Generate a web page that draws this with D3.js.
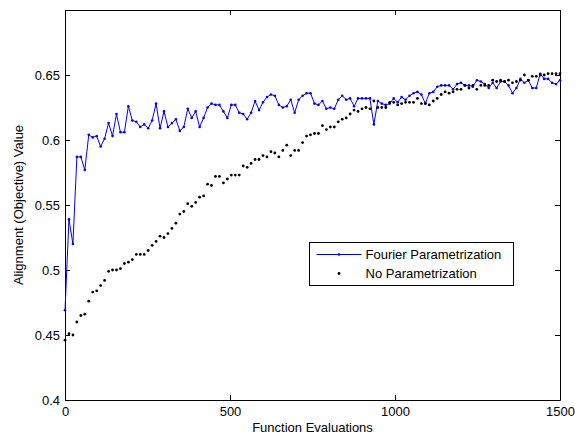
<!DOCTYPE html>
<html lang="en">
<head>
  <meta charset="utf-8">
  <title>Alignment vs Function Evaluations</title>
  <script src="https://d3js.org/d3.v7.min.js"></script>
  <style>
    body { margin: 0; background: #fff; }
    svg { font-family: "Liberation Sans", Arial, Helvetica, sans-serif; }
    .axis text { font-size: 13px; fill: #000; }
    .axis line, .axis path { stroke: #000; }
  </style>
</head>
<body>
<div id="chart"></div>
<script>
const width = 575, height = 434;
const margin = {top: 10, right: 15, bottom: 34, left: 65};

// one sample every 12 function evaluations
const evalStep = 12;
const xTicks = [0, 500, 1000, 1500];
const yTicks = [0.4, 0.45, 0.5, 0.55, 0.6, 0.65];

const fourier = [
  0.469, 0.539, 0.520, 0.587, 0.587, 0.577, 0.604, 0.602, 0.603, 0.595,
  0.601, 0.613, 0.603, 0.620, 0.606, 0.606, 0.626, 0.615, 0.614, 0.610,
  0.612, 0.609, 0.615, 0.628, 0.609, 0.622, 0.610, 0.613, 0.616, 0.607,
  0.610, 0.624, 0.617, 0.622, 0.610, 0.617, 0.625, 0.628, 0.627, 0.627,
  0.622, 0.617, 0.627, 0.627, 0.621, 0.620, 0.616, 0.621, 0.630, 0.623,
  0.629, 0.633, 0.635, 0.634, 0.627, 0.625, 0.626, 0.631, 0.621, 0.631,
  0.634, 0.636, 0.636, 0.628, 0.627, 0.630, 0.624, 0.625, 0.624, 0.631,
  0.634, 0.631, 0.632, 0.626, 0.632, 0.632, 0.632, 0.632, 0.612, 0.630,
  0.628, 0.627, 0.628, 0.632, 0.629, 0.633, 0.631, 0.634, 0.636, 0.637,
  0.635, 0.628, 0.636, 0.637, 0.641, 0.642, 0.642, 0.642, 0.639, 0.643,
  0.644, 0.642, 0.642, 0.641, 0.646, 0.645, 0.643, 0.640, 0.644, 0.640,
  0.645, 0.645, 0.642, 0.636, 0.640, 0.647, 0.644, 0.646, 0.640, 0.640,
  0.651, 0.647, 0.647, 0.644, 0.643, 0.646
];

const noParam = [
  0.446, 0.451, 0.450, 0.460, 0.465, 0.466, 0.476, 0.483, 0.484, 0.488,
  0.492, 0.499, 0.500, 0.500, 0.501, 0.505, 0.506, 0.508, 0.512, 0.512,
  0.512, 0.515, 0.519, 0.522, 0.526, 0.525, 0.528, 0.532, 0.536, 0.543,
  0.545, 0.551, 0.549, 0.552, 0.556, 0.557, 0.566, 0.565, 0.572, 0.572,
  0.567, 0.570, 0.573, 0.573, 0.573, 0.580, 0.579, 0.582, 0.585, 0.585,
  0.588, 0.587, 0.591, 0.590, 0.587, 0.592, 0.596, 0.588, 0.592, 0.592,
  0.598, 0.603, 0.604, 0.605, 0.605, 0.611, 0.608, 0.610, 0.610, 0.614,
  0.616, 0.617, 0.620, 0.623, 0.622, 0.624, 0.625, 0.624, 0.630, 0.625,
  0.625, 0.625, 0.629, 0.629, 0.627, 0.628, 0.629, 0.629, 0.629, 0.632,
  0.628, 0.628, 0.627, 0.630, 0.632, 0.635, 0.637, 0.636, 0.637, 0.639,
  0.639, 0.642, 0.640, 0.642, 0.639, 0.642, 0.642, 0.642, 0.646, 0.645,
  0.646, 0.645, 0.646, 0.644, 0.645, 0.646, 0.650, 0.646, 0.649, 0.649,
  0.650, 0.650, 0.651, 0.651, 0.651, 0.651
];

let x = d3.scaleLinear()
    .domain([0, 1500])
    .range([margin.left, width - margin.right]);
let y = d3.scaleLinear()
    .domain([0.4, 0.7])
    .range([height - margin.bottom, margin.top]);

let svg = d3.select("#chart").append("svg")
    .attr("width", width)
    .attr("height", height);

// axes box with inward ticks on all four sides, like matlab
svg.append("g")
    .attr("class", "x axis")
    .attr("transform", `translate(0,${height - margin.bottom})`)
    .call(d3.axisBottom(x).tickValues(xTicks).tickSize(-5).tickPadding(6.5)
      .tickSizeOuter(0).tickFormat(d3.format("d")));

svg.append("g")
    .attr("class", "x axis")
    .attr("transform", `translate(0,${margin.top})`)
    .call(d3.axisTop(x).tickValues(xTicks).tickSize(-5).tickSizeOuter(0).tickFormat(""));

svg.append("g")
    .attr("class", "y axis")
    .attr("transform", `translate(${margin.left},0)`)
    .call(d3.axisLeft(y).tickValues(yTicks).tickSize(-5).tickPadding(5)
      .tickSizeOuter(0).tickFormat(d3.format("")));

svg.append("g")
    .attr("class", "y axis")
    .attr("transform", `translate(${width - margin.right},0)`)
    .call(d3.axisRight(y).tickValues(yTicks).tickSize(-5).tickSizeOuter(0).tickFormat(""));

svg.selectAll(".axis text").attr("font-family", null);

// Fourier series: blue line with small dot markers
const line = d3.line()
    .x((d, i) => x(i * evalStep))
    .y(d => y(d));

svg.append("path")
    .datum(fourier)
    .attr("fill", "none")
    .attr("stroke", "#0000ff")
    .attr("stroke-width", 1)
    .attr("d", line);

svg.append("g")
  .selectAll("circle")
  .data(fourier)
  .join("circle")
    .attr("cx", (d, i) => x(i * evalStep))
    .attr("cy", d => y(d))
    .attr("r", 1.3)
    .attr("fill", "#0000ff");

// no parametrization: black dots only
svg.append("g")
  .selectAll("circle")
  .data(noParam)
  .join("circle")
    .attr("cx", (d, i) => x(i * evalStep))
    .attr("cy", d => y(d))
    .attr("r", 1.4)
    .attr("fill", "#000");

// axis titles
svg.append("text")
    .attr("x", (margin.left + width - margin.right) / 2)
    .attr("y", 431.5)
    .attr("text-anchor", "middle")
    .attr("font-size", 13)
    .text("Function Evaluations");

svg.append("text")
    .attr("transform", `translate(22.5,${(margin.top + height - margin.bottom) / 2}) rotate(-90)`)
    .attr("text-anchor", "middle")
    .attr("font-size", 13)
    .text("Alignment (Objective) Value");

// legend
const legendItems = ["Fourier Parametrization", "No Parametrization"];
let legend = svg.append("g")
    .attr("transform", "translate(309.5,242.5)");

legend.append("rect")
    .attr("width", 204)
    .attr("height", 43)
    .attr("fill", "#fff")
    .attr("stroke", "#000");

let item = legend.selectAll(".legend")
  .data(legendItems)
  .join("g")
    .attr("class", "legend")
    .attr("transform", (d, i) => `translate(0,${12 + i * 19})`);

item.filter((d, i) => i === 0).append("line")
    .attr("x1", 7).attr("x2", 52)
    .attr("stroke", "#0000ff");

item.append("circle")
    .attr("cx", 29.5)
    .attr("r", (d, i) => i === 0 ? 1.3 : 1.4)
    .attr("fill", (d, i) => i === 0 ? "#0000ff" : "#000");

item.append("text")
    .attr("x", 56)
    .attr("dy", "0.35em")
    .attr("font-size", 13)
    .text(d => d);
</script>
</body>
</html>
